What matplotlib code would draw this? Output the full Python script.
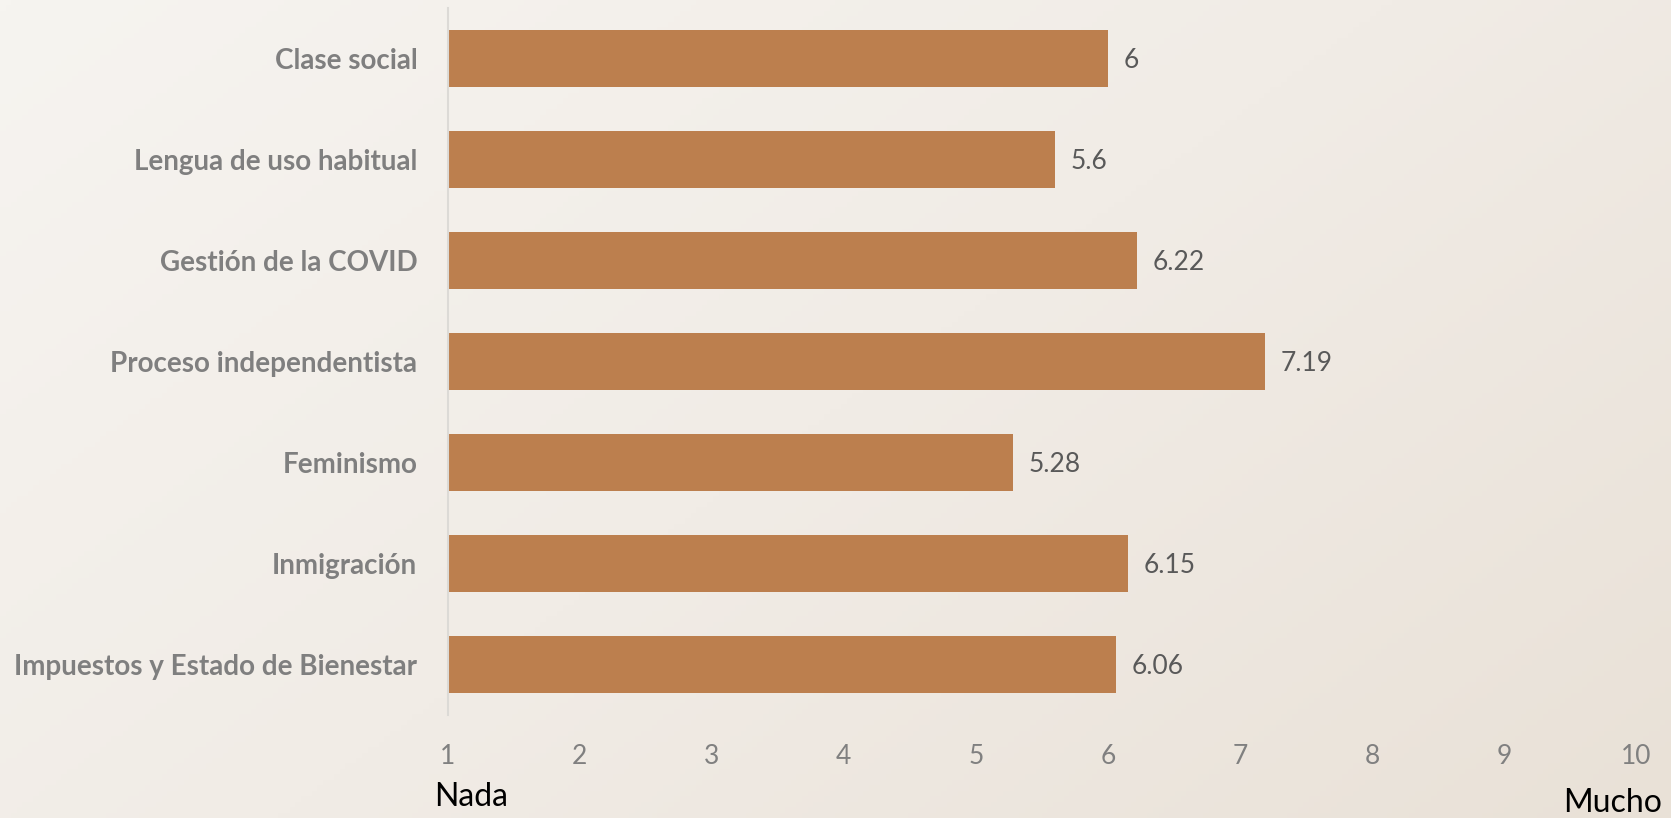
import numpy as np
import matplotlib.pyplot as plt
from matplotlib.colors import LinearSegmentedColormap

categorias = ["Clase social", "Lengua de uso habitual", "Gestión de la COVID",
              "Proceso independentista", "Feminismo", "Inmigración",
              "Impuestos y Estado de Bienestar"]
valores = [6, 5.6, 6.22, 7.19, 5.28, 6.15, 6.06]
ticks = list(range(1, 11))

plt.rcParams['font.family'] = ['Lato', 'DejaVu Sans']

fig = plt.figure(figsize=(16.71, 8.18), dpi=100)

# fondo degradado
bg = fig.add_axes([0, 0, 1, 1], zorder=-1)
cmap = LinearSegmentedColormap.from_list("fondo", ["#F6F4F0", "#F1ECE6", "#E9E1D7"])
gx, gy = np.meshgrid(np.linspace(0, 1, 300), np.linspace(0, 1, 150))
bg.imshow(gx * 0.6 + gy * 0.4, cmap=cmap, aspect='auto', extent=[0, 1, 0, 1], origin='upper')
bg.axis('off')

ax = fig.add_axes([0.268, 0.126, 0.711, 0.864])
ax.set_facecolor('none')
y = np.arange(len(categorias))
bars = ax.barh(y, valores, height=0.56, color="#BC7F4E")
ax.set_ylim(len(categorias) - 0.5, -0.5)
ax.set_xlim(1, 10)
ax.set_xticks(ticks)
ax.set_yticks(y)
ax.set_yticklabels(categorias, fontsize=20, fontweight='bold', color="#7F7F7F")
ax.tick_params(axis='x', length=0, pad=21, labelsize=19, labelcolor="#808080")
ax.tick_params(axis='y', length=0, pad=22)

for s in ['top', 'right', 'bottom']:
    ax.spines[s].set_visible(False)
ax.spines['left'].set_color("#DCDAD6")
ax.spines['left'].set_linewidth(1.5)

for b, v in zip(bars, valores):
    ax.text(v + 0.12, b.get_y() + b.get_height() / 2 + 0.02, f"{v:g}",
            va='center', ha='left', fontsize=19, color="#595959")

fig.text(434 / 1671, 1 - 797 / 818, "Nada", fontsize=23, color="black", ha='left', va='center')
fig.text(1662 / 1671, 1 - 803 / 818, "Mucho", fontsize=23, color="black", ha='right', va='center')

fig.savefig("out.png", dpi=100)
